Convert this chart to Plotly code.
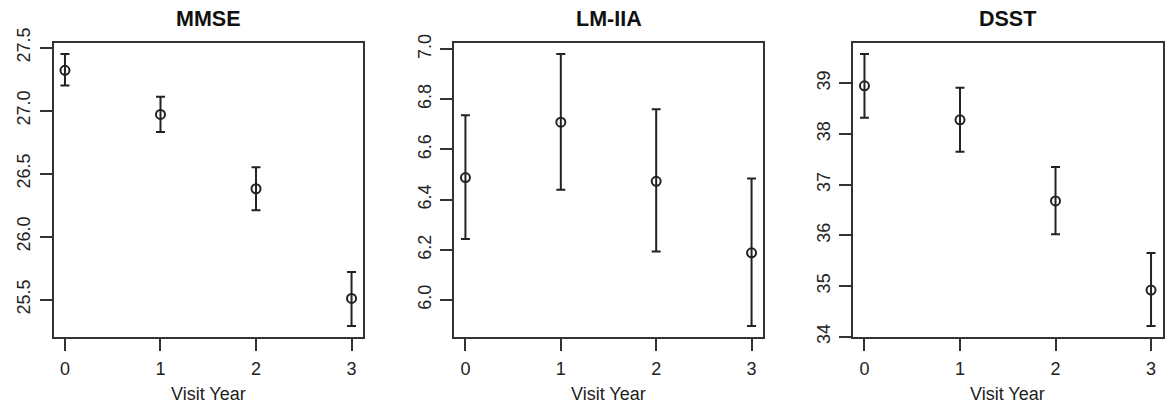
import plotly.graph_objects as go

years = [0, 1, 2, 3]
year_ticks = ["0", "1", "2", "3"]

panel_titles = ["MMSE", "LM-IIA", "DSST"]
x_title = "Visit Year"

mmse_mean = [27.32, 26.97, 26.38, 25.51]
mmse_lower = [27.20, 26.83, 26.21, 25.29]
mmse_upper = [27.45, 27.11, 26.55, 25.72]

lm_mean = [6.488, 6.709, 6.473, 6.188]
lm_lower = [6.243, 6.439, 6.193, 5.896]
lm_upper = [6.736, 6.981, 6.760, 6.484]

dsst_mean = [38.95, 38.28, 36.68, 34.92]
dsst_lower = [38.32, 37.65, 36.02, 34.21]
dsst_upper = [39.58, 38.91, 37.35, 35.65]

mmse_ticks = [25.5, 26.0, 26.5, 27.0, 27.5]
lm_ticks = [6.0, 6.2, 6.4, 6.6, 6.8, 7.0]
dsst_ticks = [34, 35, 36, 37, 38, 39]

panels = [
    (mmse_mean, mmse_lower, mmse_upper, mmse_ticks, [f"{v:.1f}" for v in mmse_ticks]),
    (lm_mean, lm_lower, lm_upper, lm_ticks, [f"{v:.1f}" for v in lm_ticks]),
    (dsst_mean, dsst_lower, dsst_upper, dsst_ticks, [f"{v:d}" for v in dsst_ticks]),
]

W, H = 1167, 411
x_domains_px = [(53.5, 363), (454, 763), (853, 1162.5)]
y_dom = [1 - 337 / H, 1 - 43 / H]

INK = "#222222"
LINE = "#333333"
FONT = "Liberation Sans, Arial, Helvetica, sans-serif"

fig = go.Figure()
layout = dict(
    width=W, height=H,
    margin=dict(l=0, r=0, t=0, b=0, pad=0, autoexpand=False),
    paper_bgcolor="white", plot_bgcolor="white",
    showlegend=False,
    font=dict(family=FONT, size=18, color=INK),
)
annotations = []

for i, (mean, lower, upper, yt, ytl) in enumerate(panels):
    n = "" if i == 0 else str(i + 1)
    xa, ya = "x" + n, "y" + n
    plus = [u - m for u, m in zip(upper, mean)]
    minus = [m - l for m, l in zip(mean, lower)]
    fig.add_trace(go.Scatter(
        x=years, y=mean, mode="markers", xaxis=xa, yaxis=ya,
        marker=dict(symbol="circle-open", size=9, color=INK, line=dict(width=2, color=INK)),
        error_y=dict(type="data", symmetric=False, array=plus, arrayminus=minus,
                     color=INK, thickness=2, width=4.5),
    ))
    lo, hi = min(lower), max(upper)
    pad = 0.04 * (hi - lo)
    d0 = x_domains_px[i][0] / W
    d1 = x_domains_px[i][1] / W
    layout["xaxis" + n] = dict(
        domain=[d0, d1], range=[-0.12, 3.12], anchor=ya, automargin=False,
        tickvals=years, ticktext=year_ticks, ticks="outside", ticklen=12, tickwidth=2,
        tickcolor=LINE, showline=True, mirror=True, linewidth=2, linecolor=LINE,
        showgrid=False, zeroline=False, tickfont=dict(size=18, color=INK),
        ticklabelstandoff=2,
    )
    layout["yaxis" + n] = dict(
        domain=y_dom, range=[lo - pad, hi + pad], anchor=xa, automargin=False,
        tickvals=yt, ticktext=ytl, ticks="outside", ticklen=12, tickwidth=2,
        tickcolor=LINE, showline=True, mirror=True, linewidth=2, linecolor=LINE,
        showgrid=False, zeroline=False, tickangle=-90, tickfont=dict(size=18, color=INK),
        ticklabelstandoff=2,
    )
    cx = (d0 + d1) / 2
    annotations.append(dict(
        text="<b>" + panel_titles[i] + "</b>", x=cx, y=1 - 19 / H, xref="paper", yref="paper",
        xanchor="center", yanchor="middle", showarrow=False,
        font=dict(size=21.5, color="#111111", family=FONT),
    ))
    annotations.append(dict(
        text=x_title, x=cx, y=1 - 394 / H, xref="paper", yref="paper",
        xanchor="center", yanchor="middle", showarrow=False,
        font=dict(size=18, color=INK, family=FONT),
    ))

layout["annotations"] = annotations
fig.update_layout(**layout)
fig.write_html(
    "out.html",
    config={"displayModeBar": False},
    post_script="document.body.style.margin='0';document.body.style.overflow='hidden';",
)
